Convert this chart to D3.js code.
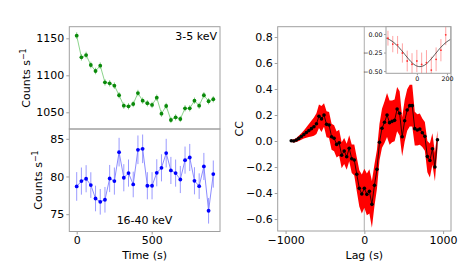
<!DOCTYPE html>
<html>
<head>
<meta charset="utf-8">
<script src="https://cdn.jsdelivr.net/npm/d3@7"></script>
<style>
  body { margin: 0; background: #fff; }
  svg { font-family: 'DejaVu Sans', sans-serif; }
</style>
</head>
<body>
<div id="app"></div>
<script>
// light curves (30 bins)
let times = [0, 31.4, 62.8, 94.2, 125.6, 157, 188.4, 219.8, 251.2, 282.6, 314, 345.4, 376.8, 408.2, 439.6,
             471, 502.4, 533.8, 565.2, 596.6, 628, 659.4, 690.8, 722.2, 753.6, 785, 816.4, 847.8, 879.2, 910.6];
let softRate = [1153.6, 1124.3, 1127.4, 1113.9, 1105.8, 1113, 1090.5, 1089.2, 1086, 1073, 1058.9, 1058.1, 1061.2, 1076, 1065.7,
                1062.2, 1059.9, 1069.7, 1048.1, 1058.5, 1039.6, 1043.2, 1040.9, 1055.4, 1055.4, 1065.7, 1058.9, 1073, 1064.9, 1067.6];
let softErr = [4.6, 4.5, 4.5, 4.5, 4.4, 4.5, 4.4, 4.4, 4.4, 4.3, 4.3, 4.3, 4.3, 4.4, 4.3,
               4.3, 4.3, 4.3, 4.3, 4.3, 4.2, 4.2, 4.2, 4.3, 4.3, 4.3, 4.3, 4.3, 4.3, 4.3];
let hardRate = [78.68, 79.39, 79.7, 78.86, 77.08, 76.64, 76.91, 79.73, 79.39, 83.23, 79.83, 80.45, 78.94, 83.54, 83.67,
                78.77, 78.77, 80.49, 81.15, 83.1, 80.8, 80.45, 79.6, 82.17, 82.52, 79.43, 78.72, 81.33, 75.45, 80.32];
let hardErr = [1.9, 1.8, 1.8, 1.7, 1.7, 1.7, 1.7, 1.8, 1.8, 1.9, 1.8, 1.8, 1.7, 1.9, 1.9,
               1.8, 1.8, 1.8, 1.8, 1.9, 1.8, 1.8, 1.8, 1.8, 1.8, 1.8, 1.7, 1.8, 1.7, 1.8];

// cross correlation
let lags = [-928, -896, -864, -832, -800, -768, -736, -704, -672, -640, -608, -576, -544, -512, -480,
            -448, -416, -384, -352, -320, -288, -256, -224, -192, -160, -128, -96, -64, -32, 0,
            32, 64, 96, 128, 160, 192, 224, 256, 288, 320, 352, 384, 416, 448, 480,
            512, 544, 576, 608, 640, 672, 704, 736, 768, 800, 832, 864, 896, 928];
let ccValues = [0.002, 0.0, 0.008, 0.02, 0.035, 0.05, 0.065, 0.08, 0.095, 0.11, 0.133, 0.19, 0.17, 0.2, 0.128,
                0.123, 0.033, 0.021, -0.026, -0.013, -0.11, -0.077, -0.121, -0.056, -0.136, -0.146, -0.256, -0.364, -0.408, -0.364,
                -0.41, -0.387, -0.487, -0.341, -0.218, -0.01, 0.098, 0.144, 0.2, 0.141, 0.151, 0.159, 0.246, 0.213, 0.033,
                0.156, 0.238, 0.272, 0.272, 0.095, 0.085, 0.092, 0.064, 0.036, -0.12, -0.15, -0.06, -0.2, 0.01];
let ccErr = [0.01, 0.012, 0.015, 0.02, 0.025, 0.03, 0.04, 0.05, 0.06, 0.07, 0.08, 0.09, 0.1, 0.09, 0.1,
             0.1, 0.1, 0.1, 0.1, 0.1, 0.1, 0.1, 0.1, 0.1, 0.11, 0.12, 0.13, 0.14, 0.15, 0.15,
             0.16, 0.17, 0.18, 0.16, 0.15, 0.14, 0.15, 0.16, 0.17, 0.17, 0.16, 0.16, 0.17, 0.17, 0.15,
             0.16, 0.16, 0.16, 0.16, 0.13, 0.12, 0.12, 0.11, 0.11, 0.12, 0.13, 0.12, 0.11, 0.07];

// fitted curve shown in the inset
let fitLags = [-205, -180, -160, -140, -120, -100, -80, -60, -40, -20, 0, 20, 40, 60, 80, 100, 120, 140, 160, 180, 200, 225];
let fitValues = [-0.053, -0.077, -0.103, -0.137, -0.178, -0.225, -0.275, -0.325, -0.371, -0.408, -0.432, -0.44,
                 -0.432, -0.408, -0.371, -0.325, -0.275, -0.225, -0.178, -0.137, -0.103, -0.071];

let timeTicks = [0, 500];
let softTicks = [1050, 1100, 1150];
let hardTicks = [75, 80, 85];
let ccTicks = [-0.6, -0.4, -0.2, 0, 0.2, 0.4, 0.6, 0.8];
let lagTicks = [-1000, 0, 1000];
let insetLagTicks = [0, 200];
let insetCcTicks = [-0.5, -0.25, 0];

let frameColor = '#a0a0a0';
let fontSize = 11;

let svg = d3.select('#app').append('svg')
    .attr('width', 463)
    .attr('height', 272)

// panel boxes
let left = { x0: 69.3, x1: 220, top: 26.7, mid: 129, bottom: 231.5 };
let right = { x0: 277.7, x1: 451, top: 26.7, bottom: 231 };
let inset = { x0: 386, x1: 450.7, top: 26.7, bottom: 73.3 };

let tScale = d3.scaleLinear().domain([-49.3, 955.3]).range([left.x0, left.x1]);
let softScale = d3.scaleLinear().domain([1027.4, 1165.7]).range([left.mid, left.top]);
let hardScale = d3.scaleLinear().domain([72.7, 86.3]).range([left.bottom, left.mid]);
let lagScale = d3.scaleLinear().domain([-1100, 1100]).range([right.x0, right.x1]);
let ccScale = d3.scaleLinear().domain([-0.692, 0.879]).range([right.bottom, right.top]);
let inLagScale = d3.scaleLinear().domain([-205, 225]).range([inset.x0, inset.x1]);
let inCcScale = d3.scaleLinear().domain([-0.53, 0.099]).range([inset.bottom, inset.top]);

function styleAxis(g, size) {
  g.select('.domain').remove();
  g.selectAll('.tick line').attr('stroke', frameColor);
  g.selectAll('.tick text')
    .attr('fill', '#000')
    .style('font-family', "'DejaVu Sans', sans-serif")
    .style('font-size', size + 'px');
}

function frame(x0, y0, x1, y1) {
  svg.append('rect')
    .attr('x', x0).attr('y', y0)
    .attr('width', x1 - x0).attr('height', y1 - y0)
    .attr('fill', 'none')
    .attr('stroke', frameColor)
    .attr('stroke-width', 1);
}

// light curve panel
function lightCurve(yScale, rates, errs, dotColor, lineColor, barColor, clipId, y0, y1) {
  svg.append('clipPath').attr('id', clipId)
    .append('rect').attr('x', left.x0).attr('y', y0).attr('width', left.x1 - left.x0).attr('height', y1 - y0);
  let g = svg.append('g').attr('clip-path', `url(#${clipId})`);

  g.selectAll('line.err')
    .data(rates)
    .enter()
    .append('line')
      .attr('x1', (d, i) => tScale(times[i]))
      .attr('x2', (d, i) => tScale(times[i]))
      .attr('y1', (d, i) => yScale(d - errs[i]))
      .attr('y2', (d, i) => yScale(d + errs[i]))
      .attr('stroke', barColor)
      .attr('stroke-width', 1);

  let line = d3.line()
    .x((d, i) => tScale(times[i]))
    .y(d => yScale(d));
  g.append('path')
    .datum(rates)
    .attr('d', line)
    .attr('fill', 'none')
    .attr('stroke', lineColor)
    .attr('stroke-width', 0.9);

  g.selectAll('circle')
    .data(rates)
    .enter()
    .append('circle')
      .attr('cx', (d, i) => tScale(times[i]))
      .attr('cy', d => yScale(d))
      .attr('r', 1.9)
      .attr('fill', dotColor);
}

lightCurve(softScale, softRate, softErr, '#0a8a0a', '#7fcf7f', '#8fd08f', 'clipSoft', left.top, left.mid);
lightCurve(hardScale, hardRate, hardErr, '#0000ff', '#7f7fff', '#9a9aff', 'clipHard', left.mid, left.bottom);

frame(left.x0, left.top, left.x1, left.mid);
frame(left.x0, left.mid, left.x1, left.bottom);

svg.append('g')
  .attr('transform', `translate(${left.x0}, 0)`)
  .call(d3.axisLeft(softScale).tickValues(softTicks).tickSize(3).tickPadding(2).tickFormat(d3.format('d')))
  .call(g => styleAxis(g, fontSize));

svg.append('g')
  .attr('transform', `translate(${left.x0}, 0)`)
  .call(d3.axisLeft(hardScale).tickValues(hardTicks).tickSize(3).tickPadding(2).tickFormat(d3.format('d')))
  .call(g => styleAxis(g, fontSize));

svg.append('g')
  .attr('transform', `translate(0, ${left.bottom})`)
  .call(d3.axisBottom(tScale).tickValues(timeTicks).tickSize(3).tickPadding(2).tickFormat(d3.format('d')))
  .call(g => styleAxis(g, fontSize));

svg.append('text')
  .attr('x', 217).attr('y', 39.5)
  .attr('text-anchor', 'end')
  .style('font-size', fontSize + 'px')
  .text('3-5 keV');

svg.append('text')
  .attr('x', 144.5).attr('y', 223.5)
  .attr('text-anchor', 'middle')
  .style('font-size', fontSize + 'px')
  .text('16-40 keV');

// y labels with superscript
function countsLabel(x, y) {
  let t = svg.append('text')
    .attr('transform', `translate(${x}, ${y}) rotate(-90)`)
    .attr('text-anchor', 'middle')
    .style('font-size', fontSize + 'px');
  t.append('tspan').text('Counts s');
  t.append('tspan').attr('dy', -4.5).style('font-size', '8px').text('\u22121');
}
countsLabel(30, 78);
countsLabel(42, 180);

svg.append('text')
  .attr('x', 144.6).attr('y', 259)
  .attr('text-anchor', 'middle')
  .style('font-size', fontSize + 'px')
  .text('Time (s)');

// cross correlation panel
svg.append('line')
  .attr('x1', lagScale(0)).attr('x2', lagScale(0))
  .attr('y1', right.top).attr('y2', right.bottom)
  .attr('stroke', '#c0c0c0')
  .attr('stroke-width', 1.3);

let band = d3.area()
  .x((d, i) => lagScale(lags[i]))
  .y0((d, i) => ccScale(d - ccErr[i]))
  .y1((d, i) => ccScale(d + ccErr[i]));

svg.append('path')
  .datum(ccValues)
  .attr('d', band)
  .attr('fill', '#ff0000')
  .attr('stroke', 'none');

svg.append('path')
  .datum(ccValues)
  .attr('d', d3.line().x((d, i) => lagScale(lags[i])).y(d => ccScale(d)))
  .attr('fill', 'none')
  .attr('stroke', '#000')
  .attr('stroke-width', 0.8);

svg.selectAll('circle.cc')
  .data(ccValues)
  .enter()
  .append('circle')
    .attr('class', 'cc')
    .attr('cx', (d, i) => lagScale(lags[i]))
    .attr('cy', d => ccScale(d))
    .attr('r', 1.8)
    .attr('fill', '#000');

frame(right.x0, right.top, right.x1, right.bottom);

svg.append('g')
  .attr('transform', `translate(${right.x0}, 0)`)
  .call(d3.axisLeft(ccScale).tickValues(ccTicks).tickSize(3).tickPadding(2).tickFormat(d3.format('.1f')))
  .call(g => styleAxis(g, fontSize));

svg.append('g')
  .attr('transform', `translate(0, ${right.bottom})`)
  .call(d3.axisBottom(lagScale).tickValues(lagTicks).tickSize(3).tickPadding(2).tickFormat(d3.format('d')))
  .call(g => styleAxis(g, fontSize));

svg.append('text')
  .attr('transform', `translate(243, ${(right.top + right.bottom) / 2}) rotate(-90)`)
  .attr('text-anchor', 'middle')
  .style('font-size', fontSize + 'px')
  .text('CC');

svg.append('text')
  .attr('x', lagScale(0)).attr('y', 259)
  .attr('text-anchor', 'middle')
  .style('font-size', fontSize + 'px')
  .text('Lag (s)');

// inset
svg.append('rect')
  .attr('x', inset.x0).attr('y', inset.top)
  .attr('width', inset.x1 - inset.x0).attr('height', inset.bottom - inset.top)
  .attr('fill', '#fff');

svg.append('clipPath').attr('id', 'clipInset')
  .append('rect').attr('x', inset.x0).attr('y', inset.top)
  .attr('width', inset.x1 - inset.x0).attr('height', inset.bottom - inset.top);

let ig = svg.append('g').attr('clip-path', 'url(#clipInset)');
let inIdx = d3.range(lags.length).filter(i => Math.abs(lags[i]) <= 200);

ig.selectAll('line.ierr')
  .data(inIdx)
  .enter()
  .append('line')
    .attr('x1', i => inLagScale(lags[i]))
    .attr('x2', i => inLagScale(lags[i]))
    .attr('y1', i => inCcScale(ccValues[i] - ccErr[i]))
    .attr('y2', i => inCcScale(ccValues[i] + ccErr[i]))
    .attr('stroke', '#ff9a9a')
    .attr('stroke-width', 0.9);

ig.append('path')
  .datum(fitValues)
  .attr('d', d3.line().x((d, i) => inLagScale(fitLags[i])).y(d => inCcScale(d)).curve(d3.curveMonotoneX))
  .attr('fill', 'none')
  .attr('stroke', '#333')
  .attr('stroke-width', 0.8);

ig.selectAll('circle')
  .data(inIdx)
  .enter()
  .append('circle')
    .attr('cx', i => inLagScale(lags[i]))
    .attr('cy', i => inCcScale(ccValues[i]))
    .attr('r', 0.9)
    .attr('fill', '#ff3030');

frame(inset.x0, inset.top, inset.x1, inset.bottom);

svg.append('g')
  .attr('transform', `translate(${inset.x0}, 0)`)
  .call(d3.axisLeft(inCcScale).tickValues(insetCcTicks).tickSize(2).tickPadding(1.5).tickFormat(d3.format('.2f')))
  .call(g => styleAxis(g, 6.3));

svg.append('g')
  .attr('transform', `translate(0, ${inset.bottom})`)
  .call(d3.axisBottom(inLagScale).tickValues(insetLagTicks).tickSize(2).tickPadding(1).tickFormat(d3.format('d')))
  .call(g => styleAxis(g, 6.3));
</script>
</body>
</html>
